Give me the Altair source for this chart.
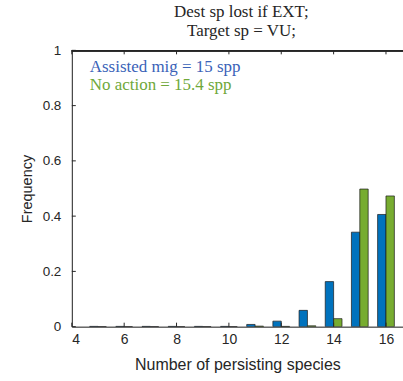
import altair as alt
import pandas as pd

species = [5, 6, 7, 8, 9, 10, 11, 12, 13, 14, 15, 16]
assisted = [0.001, 0.001, 0.001, 0.001, 0.001, 0.001, 0.008, 0.020, 0.059, 0.163, 0.342, 0.406]
no_action = [0.0, 0.0, 0.0, 0.0, 0.0, 0.0, 0.002, 0.001, 0.003, 0.029, 0.498, 0.473]
x_ticks = [4, 6, 8, 10, 12, 14, 16]
y_ticks = [0, 0.2, 0.4, 0.6, 0.8, 1]

BLUE = "#0072BD"
GREEN = "#77AC30"
AX = "#262626"

rows = []
for s, a, n in zip(species, assisted, no_action):
    rows.append({"n": s, "series": "Assisted mig", "freq": a})
    rows.append({"n": s, "series": "No action", "freq": n})
df = pd.DataFrame(rows)

W, H = 332, 277
xs = alt.Scale(domain=[4, 16.65], nice=False, zero=False)
ys = alt.Scale(domain=[0, 1], nice=False)

xaxis = alt.Axis(values=x_ticks, title="Number of persisting species",
                 labelFontSize=14, titleFontSize=16, labelPadding=6,
                 titlePadding=10, tickSize=0, domain=True, domainColor=AX, domainWidth=1,
                 grid=False, labelColor=AX, titleColor=AX, labelFont="Liberation Sans",
                 titleFont="Liberation Sans", titleFontWeight="normal")
yaxis = alt.Axis(values=y_ticks, format="~g", title="Frequency",
                 labelFontSize=13.5, titleFontSize=14.5, labelPadding=11,
                 titlePadding=8, tickSize=0, domain=True, domainColor=AX, domainWidth=1,
                 grid=False, labelColor=AX, titleColor=AX, labelFont="Liberation Sans",
                 titleFont="Liberation Sans", titleFontWeight="normal")

bars = alt.Chart(df).transform_calculate(
    x0="datum.series == 'Assisted mig' ? datum.n - 0.32 : datum.n",
    x1="datum.series == 'Assisted mig' ? datum.n : datum.n + 0.32",
).mark_bar(stroke="#1a1a1a", strokeWidth=0.7, clip=True).encode(
    x=alt.X("x0:Q", scale=xs, axis=xaxis),
    x2="x1:Q",
    y=alt.Y("freq:Q", scale=ys, axis=yaxis),
    y2=alt.datum(0),
    color=alt.Color("series:N", scale=alt.Scale(domain=["Assisted mig", "No action"],
                                                 range=[BLUE, GREEN]), legend=None),
)

xt = pd.DataFrame({"t": x_ticks})
yt = pd.DataFrame({"t": y_ticks})

xtick_bot = alt.Chart(xt).mark_rule(color=AX, strokeWidth=1).encode(
    x=alt.X("t:Q", scale=xs, axis=xaxis), y=alt.value(H), y2=alt.value(H - 4))
xtick_top = alt.Chart(xt).mark_rule(color=AX, strokeWidth=1).encode(
    x=alt.X("t:Q", scale=xs, axis=xaxis), y=alt.value(0), y2=alt.value(4))
ytick = alt.Chart(yt).mark_rule(color=AX, strokeWidth=1).encode(
    y=alt.Y("t:Q", scale=ys, axis=yaxis), x=alt.value(0), x2=alt.value(4))
top_border = alt.Chart(xt).mark_rule(color=AX, strokeWidth=1).encode(
    x=alt.value(0), x2=alt.value(W + 2), y=alt.value(0.5))

text_blue = alt.Chart(pd.DataFrame({"label": ["Assisted mig = 15 spp"]})).mark_text(
    align="left", baseline="middle", font="Liberation Serif", fontSize=17, color="#3a62b8"
).encode(x=alt.value(18), y=alt.value(17), text="label:N")
text_green = alt.Chart(pd.DataFrame({"label": ["No action = 15.4 spp"]})).mark_text(
    align="left", baseline="middle", font="Liberation Serif", fontSize=17, color="#6fa83a"
).encode(x=alt.value(18), y=alt.value(35), text="label:N")

chart = alt.layer(bars, xtick_bot, xtick_top, ytick, top_border, text_blue, text_green).properties(
    width=W, height=H,
    title=alt.TitleParams(["Dest sp lost if EXT;", "Target sp = VU;"],
                          font="Liberation Serif", fontSize=17, fontWeight="normal",
                          color=AX, offset=3, dx=4, lineHeight=19),
    autosize=alt.AutoSizeParams(type="none"),
    padding={"left": 72, "top": 50, "right": 0, "bottom": 54},
).configure_view(stroke=None).configure(background="white")

chart.save("out.html", embed_options={"renderer": "svg", "actions": False})
